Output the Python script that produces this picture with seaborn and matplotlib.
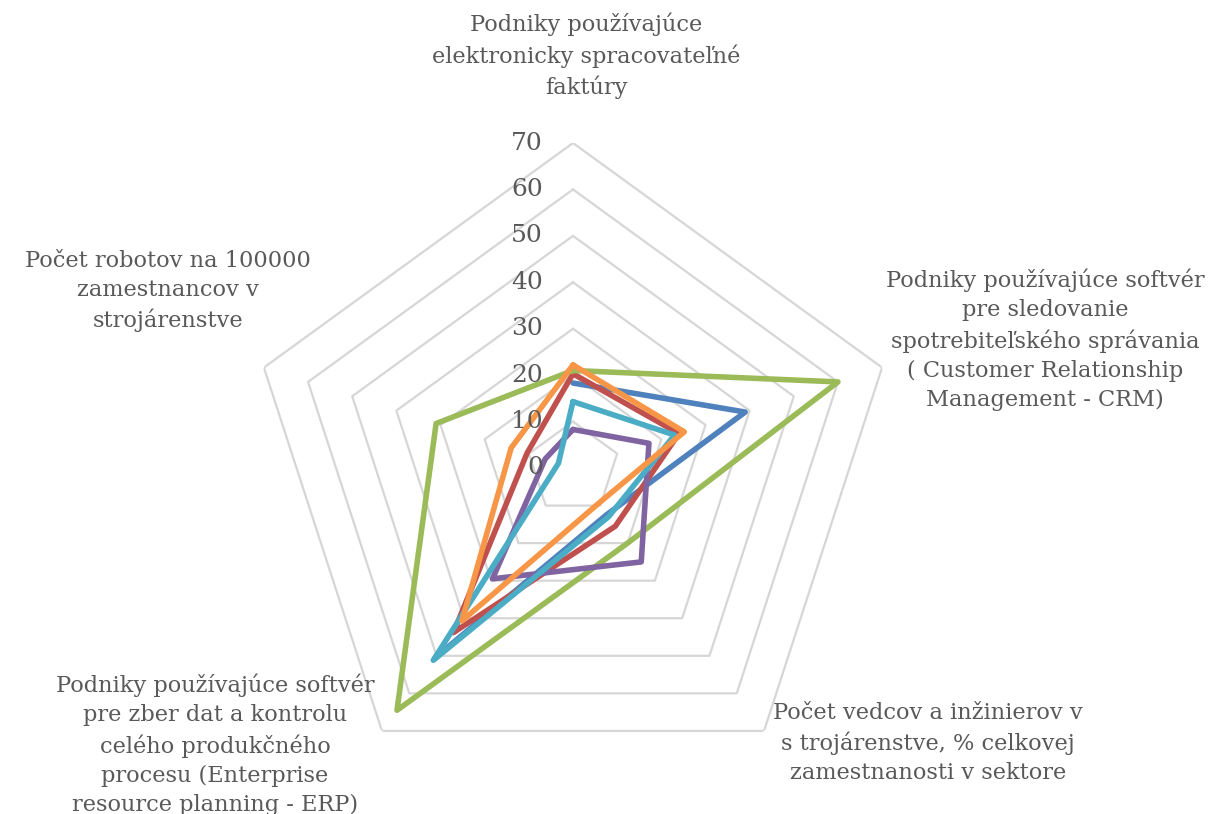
import numpy as np
import pandas as pd
import matplotlib
matplotlib.use("Agg")
import matplotlib.pyplot as plt
import seaborn as sns

# kategórie (osi grafu), v poradí v smere hodinových ručičiek od vrchu
categories = [
    "Podniky používajúce\nelektronicky spracovateľné\nfaktúry",
    "Podniky používajúce softvér\npre sledovanie\nspotrebiteľského správania\n( Customer Relationship\nManagement - CRM)",
    "Počet vedcov a inžinierov v\ns trojárenstve, % celkovej\nzamestnanosti v sektore",
    "Podniky používajúce softvér\npre zber dat a kontrolu\ncelého produkčného\nprocesu (Enterprise\nresource planning - ERP)",
    "Počet robotov na 100000\nzamestnancov v\nstrojárenstve",
]

# hodnoty jednotlivých sérií (odčítané z grafu)
series_names = ["Séria 1", "Séria 2", "Séria 3", "Séria 4", "Séria 5", "Séria 6"]
s1 = [18.3, 39.0, 12.4, 50.5, np.nan]
s2 = [20.3, 24.0, 15.5, 43.8, 10.4]
s3 = [21.0, 60.0, 20.0, 64.5, 31.0]
s4 = [8.3, 17.2, 25.0, 29.5, 6.3]
s5 = [14.3, 23.0, 13.0, 51.2, 3.3]
s6 = [22.2, 25.2, 9.4, 40.7, 14.0]
colors = ["#4F81BD", "#C0504D", "#9BBB59", "#8064A2", "#4BACC6", "#F79646"]

r_ticks = [0, 10, 20, 30, 40, 50, 60, 70]

sns.set_theme(style="white")
plt.rcParams["font.family"] = ["DejaVu Serif"]
TXT = "#595959"

n = len(categories)
angles = np.arange(n) * 2 * np.pi / n

# dlhá tabuľka pre seaborn, chýbajúce hodnoty rozdelia čiaru na úseky
rows = []
for name, vals in zip(series_names, [s1, s2, s3, s4, s5, s6]):
    closed = list(vals) + [vals[0]]
    th = list(angles) + [2 * np.pi]
    seg = 0
    for t, v in zip(th, closed):
        if np.isnan(v):
            seg += 1
            continue
        rows.append({"series": name, "seg": seg, "theta": t, "r": v})
df = pd.DataFrame(rows)

W, H = 1209, 814
fig = plt.figure(figsize=(W / 100, H / 100), dpi=100)
cx, cy, rad = 573, 468, 325
ax = fig.add_axes([(cx - rad) / W, (H - cy - rad) / H, 2 * rad / W, 2 * rad / H],
                  projection="polar")
ax.set_theta_offset(np.pi / 2)
ax.set_theta_direction(-1)

# mriežka v tvare päťuholníkov
for rv in r_ticks[1:]:
    ax.plot(list(angles) + [angles[0]], [rv] * (n + 1), color="#D6D6D6",
            lw=1.6, zorder=1)

sns.lineplot(data=df, x="theta", y="r", hue="series", units="seg",
             estimator=None, sort=False, palette=colors, linewidth=4.0,
             legend=False, ax=ax, zorder=3)
for line in ax.lines:
    line.set_solid_joinstyle("round")
    line.set_solid_capstyle("round")

ax.set_ylim(0, 70)
ax.set_xticks([])
ax.set_yticks([])
ax.grid(False)
ax.spines["polar"].set_visible(False)
ax.set_xlabel("")
ax.set_ylabel("")

for rv in r_ticks:
    ax.annotate(str(rv), xy=(0, rv), xytext=(-30, 0), textcoords="offset pixels",
                ha="right", va="center", fontsize=18, color=TXT)

label_pos = [(586, 56), (1045, 340), (928, 743), (215, 745), (168, 291)]
for text, (px, py) in zip(categories, label_pos):
    fig.text(px / W, 1 - py / H, text, ha="center", va="center",
             multialignment="center", fontsize=16.2, color=TXT, linespacing=1.42)

fig.savefig("out.png", dpi=100)
